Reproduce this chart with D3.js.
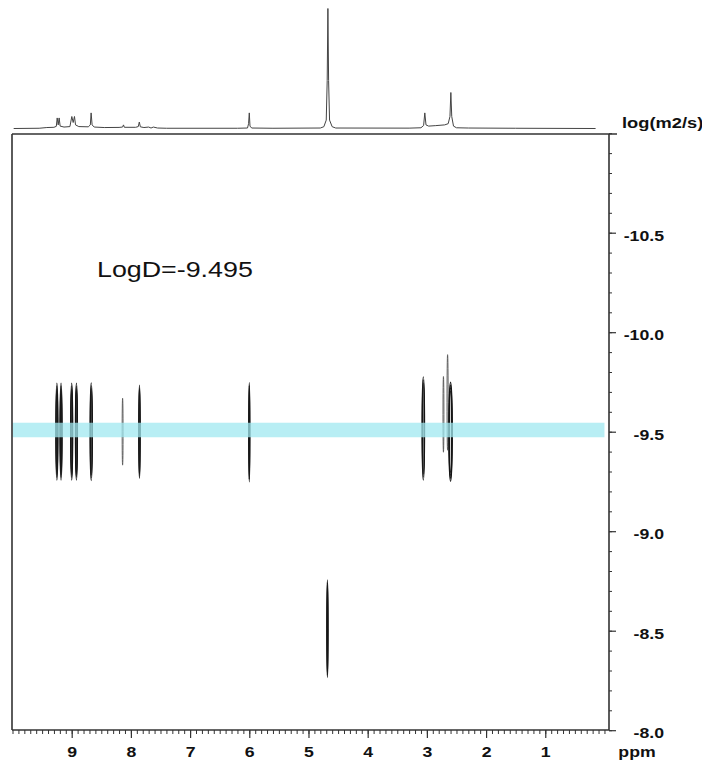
<!DOCTYPE html>
<html>
<head>
<meta charset="utf-8">
<script src="https://cdn.jsdelivr.net/npm/d3@7"></script>
<style>
  body { margin: 0; background: #fff; }
  svg { display: block; }
  text { font-family: "Liberation Sans", Arial, Helvetica, sans-serif; }
</style>
</head>
<body>
<svg id="chart" width="702" height="762"></svg>
<script>
// DOSY spectrum: 1D proton trace on top, diffusion contours below
const xTickLabels = [9, 8, 7, 6, 5, 4, 3, 2, 1];
const yTickLabels = [-10.5, -10.0, -9.5, -9.0, -8.5, -8.0];
const logDValue = -9.495;
const bandLogD = [-9.545, -9.472];   // highlighted stripe

// 1D trace: [ppm, relative intensity]
const spectrumTrace = [
  [9.98, 0], [9.55, 0.002], [9.42, 0.008], [9.30, 0.01], [9.26, 0.018], [9.245, 0.088],
  [9.228, 0.03], [9.212, 0.088], [9.195, 0.02], [9.13, 0.012], [9.03, 0.016], [8.998, 0.1],
  [8.975, 0.05], [8.953, 0.1], [8.935, 0.03], [8.88, 0.016], [8.72, 0.014], [8.685, 0.03],
  [8.672, 0.13], [8.655, 0.03], [8.62, 0.012], [8.45, 0.008], [8.20, 0.009], [8.14, 0.012],
  [8.125, 0.03], [8.11, 0.01], [7.92, 0.01], [7.875, 0.016], [7.858, 0.054], [7.84, 0.014],
  [7.78, 0.008], [7.70, 0.012], [7.66, 0.004], [7.62, 0.012], [7.55, 0.004], [7.40, 0.002],
  [6.20, 0.002], [6.03, 0.004], [6.012, 0.04], [6.0, 0.13], [5.988, 0.02], [5.96, 0.004],
  [5.6, 0.002], [4.80, 0.004], [4.74, 0.015], [4.70, 0.07], [4.684, 0.4], [4.672, 1.0],
  [4.660, 0.4], [4.644, 0.07], [4.60, 0.015], [4.54, 0.004], [3.30, 0.003], [3.10, 0.006],
  [3.055, 0.025], [3.035, 0.13], [3.015, 0.03], [2.97, 0.02], [2.85, 0.024], [2.70, 0.03],
  [2.64, 0.04], [2.61, 0.10], [2.595, 0.30], [2.58, 0.10], [2.55, 0.02], [2.50, 0.006],
  [2.30, 0.004], [1.5, 0.002], [0.15, 0]
];

// 2D contours (one entry per cross peak)
const contourPpm    = [9.25, 9.18, 9.00, 8.92, 8.67, 8.14, 7.855, 6.00, 3.06, 2.72, 2.65, 2.60, 4.68];
const contourLogD   = [-9.50, -9.50, -9.50, -9.50, -9.50, -9.50, -9.50, -9.497, -9.516, -9.587, -9.647, -9.50, -8.51];
const contourSpan   = [0.244, 0.244, 0.244, 0.244, 0.246, 0.168, 0.235, 0.25, 0.26, 0.19, 0.24, 0.25, 0.246];
const contourWidth  = [0.018, 0.018, 0.018, 0.018, 0.02, 0.008, 0.014, 0.011, 0.022, 0.008, 0.01, 0.03, 0.012];
const contourLevels = [3, 3, 3, 3, 3, 1, 2, 2, 3, 1, 1, 4, 2];

const svg = d3.select('#chart');
const frame = { left: 12, right: 609, top: 134, bottom: 730 };
const stretch = 1.22;

const x = d3.scaleLinear().domain([10, -0.08]).range([12.5, 609.2]);
const y = d3.scaleLinear().domain([-11, -8]).range([133.2, 730.2]);
const yS = d3.scaleLinear().domain([0, 1]).range([128.5, 8.5]);

// top trace
svg.append('path')
  .datum(spectrumTrace)
  .attr('fill', 'none')
  .attr('stroke', '#444')
  .attr('stroke-width', 1)
  .attr('d', d3.line().x(d => x(d[0])).y(d => yS(d[1])));

// contours
const peaks = contourPpm.map((p, i) => ({
  ppm: p, logD: contourLogD[i], span: contourSpan[i], w: contourWidth[i], n: contourLevels[i]
}));
const rings = [];
peaks.forEach(pk => {
  for (let k = 0; k < pk.n; k++) {
    rings.push({
      cx: x(pk.ppm),
      cy: y(pk.logD),
      rx: Math.max(0.4, Math.abs(x(pk.ppm + pk.w) - x(pk.ppm)) * (1 - 0.6 * k / pk.n)),
      ry: Math.abs(y(pk.logD + pk.span) - y(pk.logD)) * (1 - 0.06 * k),
      light: pk.n === 1
    });
  }
});
svg.append('g').selectAll('ellipse')
  .data(rings)
  .join('ellipse')
  .attr('cx', d => d.cx)
  .attr('cy', d => d.cy)
  .attr('rx', d => d.rx)
  .attr('ry', d => d.ry)
  .attr('fill', 'none')
  .attr('stroke', d => d.light ? '#555' : '#151515')
  .attr('stroke-width', d => d.light ? 0.9 : 1.1);

// highlighted LogD stripe
svg.append('rect')
  .attr('x', x(10))
  .attr('width', x(0) - x(10))
  .attr('y', y(bandLogD[0]))
  .attr('height', y(bandLogD[1]) - y(bandLogD[0]))
  .attr('fill', 'rgb(160,232,240)')
  .attr('opacity', 0.75);

// frame
const frameG = svg.append('g').attr('fill', 'none').attr('stroke', '#333').attr('stroke-width', 1.6);
frameG.append('line').attr('x1', frame.left).attr('x2', 617).attr('y1', frame.top).attr('y2', frame.top);
frameG.append('line').attr('x1', frame.left).attr('x2', frame.left).attr('y1', frame.top).attr('y2', frame.bottom);
frameG.append('line').attr('x1', frame.right).attr('x2', frame.right).attr('y1', frame.top).attr('y2', frame.bottom);
frameG.append('line').attr('x1', frame.left).attr('x2', frame.right).attr('y1', frame.bottom).attr('y2', frame.bottom);

// x axis (ppm)
const xMinor = d3.range(0, 101).map(i => i / 10);
svg.append('g')
  .attr('transform', `translate(0,${frame.bottom})`)
  .call(d3.axisBottom(x).tickValues(xMinor).tickSize(4).tickFormat(''))
  .call(g => g.select('.domain').remove())
  .call(g => g.selectAll('line').attr('stroke', '#333'));

svg.append('g')
  .attr('transform', `translate(0,${frame.bottom})`)
  .call(d3.axisBottom(x).tickValues(xTickLabels).tickSize(8).tickFormat(d3.format('d')))
  .call(g => g.select('.domain').remove())
  .call(g => g.selectAll('line').attr('stroke', '#333').attr('stroke-width', 1.2))
  .call(g => g.selectAll('text')
    .attr('y', 27).attr('dy', null)
    .attr('font-size', 14.5).attr('font-weight', 'bold').attr('fill', '#111')
    .attr('font-family', '"Liberation Sans", Arial, sans-serif')
    .attr('transform', `scale(${stretch},1)`));

// y axis (log D), on the right
const yMinor = d3.range(-110, -79).map(i => i / 10);
svg.append('g')
  .attr('transform', `translate(${frame.right},0)`)
  .call(d3.axisRight(y).tickValues(yMinor).tickSize(3).tickFormat(''))
  .call(g => g.select('.domain').remove())
  .call(g => g.selectAll('line').attr('stroke', '#333'));

svg.append('g')
  .attr('transform', `translate(${frame.right},0)`)
  .call(d3.axisRight(y).tickValues(yTickLabels).tickSize(7).tickFormat(d => d.toFixed(1)))
  .call(g => g.select('.domain').remove())
  .call(g => g.selectAll('line').attr('stroke', '#333').attr('stroke-width', 1.2))
  .call(g => g.selectAll('text')
    .attr('x', 55 / stretch).attr('y', 7.5).attr('dy', null)
    .attr('text-anchor', 'end')
    .attr('font-size', 14.5).attr('font-weight', 'bold').attr('fill', '#111')
    .attr('font-family', '"Liberation Sans", Arial, sans-serif')
    .attr('transform', `scale(${stretch},1)`));

// labels
function stretchedText(px, py, str, size, weight, anchor) {
  svg.append('g')
    .attr('transform', `translate(${px},${py}) scale(${stretch},1)`)
    .append('text')
    .attr('text-anchor', anchor)
    .attr('font-size', size)
    .attr('font-weight', weight)
    .attr('fill', '#111')
    .text(str);
}
stretchedText(622, 128, 'log(m2/s)', 15, 'bold', 'start');
stretchedText(637, 757, 'ppm', 14.5, 'bold', 'middle');
stretchedText(97, 277, 'LogD=' + logDValue, 22, 'normal', 'start');
</script>
</body>
</html>
